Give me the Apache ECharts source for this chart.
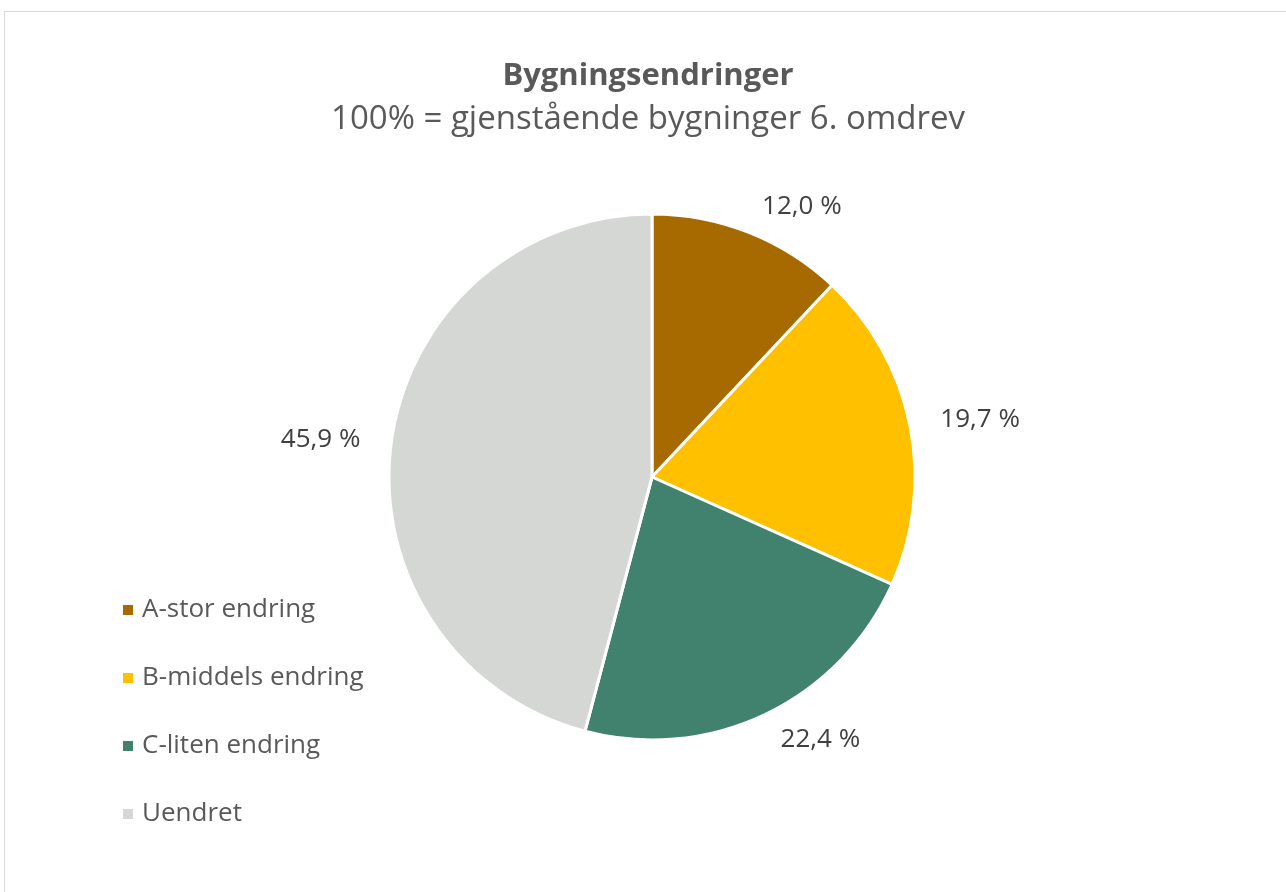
<!DOCTYPE html>
<html>
<head>
<meta charset="utf-8">
<script src="https://cdn.jsdelivr.net/npm/echarts@6/dist/echarts.min.js"></script>
<style>
  html, body { margin: 0; padding: 0; background: #fff; }
  #frame { position: absolute; left: 4px; top: 11px; width: 1290px; height: 890px; border: 1px solid #d9d9d9; box-sizing: border-box; }
  #chart { position: absolute; left: 0; top: 0; width: 1286px; height: 892px; }
</style>
</head>
<body>
<div id="frame"></div>
<div id="chart"></div>
<script>
// data
var categories = ['A-stor endring', 'B-middels endring', 'C-liten endring', 'Uendret'];
var shares = [12.0, 19.7, 22.4, 45.9];
var colors = ['#A66A00', '#FFC000', '#41826F', '#D4D7D3'];

var chart = echarts.init(document.getElementById('chart'));
var font = '"Open Sans", "Noto Sans", sans-serif';

var option = {
  animation: false,
  color: colors,
  title: {
    text: 'Bygningsendringer',
    subtext: '100% = gjenstående bygninger 6. omdrev',
    left: 643,
    textAlign: 'center',
    top: 56,
    itemGap: 11,
    textStyle: { fontFamily: font, fontSize: 31, fontWeight: 'bold', color: '#595959' },
    subtextStyle: { fontFamily: font, fontSize: 33, color: '#595959' }
  },
  legend: {
    orient: 'vertical',
    left: 116,
    top: 592,
    icon: 'rect',
    itemWidth: 12,
    itemHeight: 12,
    itemGap: 42,
    textStyle: { fontFamily: font, fontSize: 26, color: '#595959', padding: [0, 0, 0, 3] },
    data: categories
  },
  series: [{
    type: 'pie',
    center: [652, 477],
    radius: 263,
    startAngle: 90,
    clockwise: true,
    avoidLabelOverlap: false,
    itemStyle: { borderColor: '#fff', borderWidth: 3 },
    label: {
      position: 'outside',
      fontFamily: font,
      fontSize: 26,
      color: '#404040',
      formatter: function (p) { return p.value.toFixed(1).replace('.', ',') + ' %'; }
    },
    labelLine: { show: false, length: 28, length2: -2 },
    emphasis: { disabled: true },
    data: categories.map(function (c, i) { return { name: c, value: shares[i] }; })
  }]
};
chart.setOption(option);
</script>
</body>
</html>
